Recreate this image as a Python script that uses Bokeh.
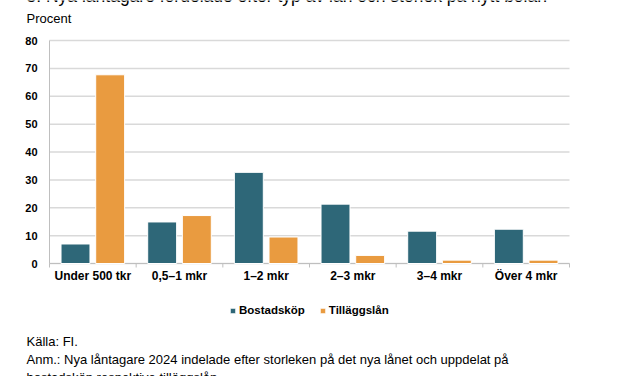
from bokeh.plotting import figure
from bokeh.models import (Range1d, Label, Legend, LegendItem, ColumnDataSource)
from bokeh.core.properties import value
from bokeh.embed import file_html
from bokeh.resources import INLINE

categories = ["Under 500 tkr", "0,5\u20131 mkr", "1\u20132 mkr", "2\u20133 mkr", "3\u20134 mkr", "\u00d6ver 4 mkr"]
bostadskop = [7.0, 14.9, 32.7, 21.3, 11.6, 12.3]
tillaggslan = [67.7, 17.2, 9.5, 2.9, 1.2, 1.2]
y_ticks = [0, 10, 20, 30, 40, 50, 60, 70, 80]
series_names = ["Bostadsk\u00f6p", "Till\u00e4ggsl\u00e5n"]

TEAL = "#2e6778"
ORANGE = "#e99b40"
GRID = "#d9d9d9"
AXIS = "#bfbfbf"
FONT = "Liberation Sans"

W, H = 627, 376
# plot area in canvas pixels (top-left origin)
PL, PR, PT, PB = 49, 569, 40, 263
N = len(categories)
YMAX = y_ticks[-1]
sx = (PR - PL) / N          # px per category
sy = (PB - PT) / YMAX       # px per percent

p = figure(width=W, height=H, output_backend="svg", toolbar_location=None,
           x_axis_type=None, y_axis_type=None,
           x_range=Range1d(-PL / sx, N + (W - PR) / sx),
           y_range=Range1d(-(H - PB) / sy, YMAX + PT / sy),
           min_border=0)
p.outline_line_color = None
p.background_fill_color = "white"
p.border_fill_color = "white"
p.xgrid.visible = False
p.ygrid.visible = False

# grid lines and axis lines
p.segment(x0=[0] * len(y_ticks), x1=[N] * len(y_ticks), y0=y_ticks, y1=y_ticks,
          line_color=GRID, line_width=1.5)
p.segment(x0=[0], x1=[0], y0=[0], y1=[YMAX], line_color=AXIS, line_width=1)
p.segment(x0=[0], x1=[N], y0=[0], y1=[0], line_color=AXIS, line_width=1)
bounds = list(range(N + 1))
p.segment(x0=bounds, x1=bounds, y0=[0] * len(bounds), y1=[-4 / sy] * len(bounds),
          line_color=AXIS, line_width=1)

centers = [i + 0.5 for i in range(N)]
src = ColumnDataSource(dict(
    x1=[c - 0.2 for c in centers], x2=[c + 0.2 for c in centers],
    b=bostadskop, t=tillaggslan))
r1 = p.vbar(x="x1", top="b", width=0.334, source=src, fill_color=TEAL,
            line_color="white", line_width=1)
r2 = p.vbar(x="x2", top="t", width=0.334, source=src, fill_color=ORANGE,
            line_color="white", line_width=1)

# tick labels
p.text(x=[0] * len(y_ticks), y=y_ticks, text=[str(v) for v in y_ticks],
       x_offset=-12, text_align="right", text_baseline="middle",
       text_font=value(FONT), text_font_style="bold", text_font_size="11px", text_color="black")
p.text(x=centers, y=[0] * N, text=categories, y_offset=5,
       text_align="center", text_baseline="top",
       text_font=value(FONT), text_font_style="bold", text_font_size="12px", text_color="black")

legend = Legend(items=[LegendItem(label=series_names[0], renderers=[r1]),
                       LegendItem(label=series_names[1], renderers=[r2])],
                location=(229, H - 316), orientation="horizontal",
                glyph_width=7, glyph_height=7, label_height=12, label_standoff=3,
                spacing=14, padding=0, margin=0, border_line_color=None,
                background_fill_alpha=0, label_text_font=FONT,
                label_text_font_style="bold", label_text_font_size="11.5px",
                label_text_color="black", label_text_baseline="middle")
p.add_layout(legend)

def lab(txt, x, y, size, style="normal"):
    # x, y in canvas pixels from the top-left corner
    p.add_layout(Label(x=x, y=H - y, x_units="screen", y_units="screen", text=txt,
                       text_font=FONT, text_font_size=size, text_font_style=style,
                       text_color="black", text_baseline="middle", text_align="left"))

lab("5. Nya l\u00e5ntagare f\u00f6rdelade efter typ av l\u00e5n och storlek p\u00e5 nytt bol\u00e5n", 26, -4.5, "17.5px")
lab("Procent", 26, 18, "13px")
lab("K\u00e4lla: FI.", 26, 341, "13px")
lab("Anm.: Nya l\u00e5ntagare 2024 indelade efter storleken p\u00e5 det nya l\u00e5net och uppdelat p\u00e5", 26, 359, "13px")
lab("bostadsk\u00f6p respektive till\u00e4ggsl\u00e5n.", 26, 377, "13px")

open("out.html", "w").write(file_html(p, INLINE))
